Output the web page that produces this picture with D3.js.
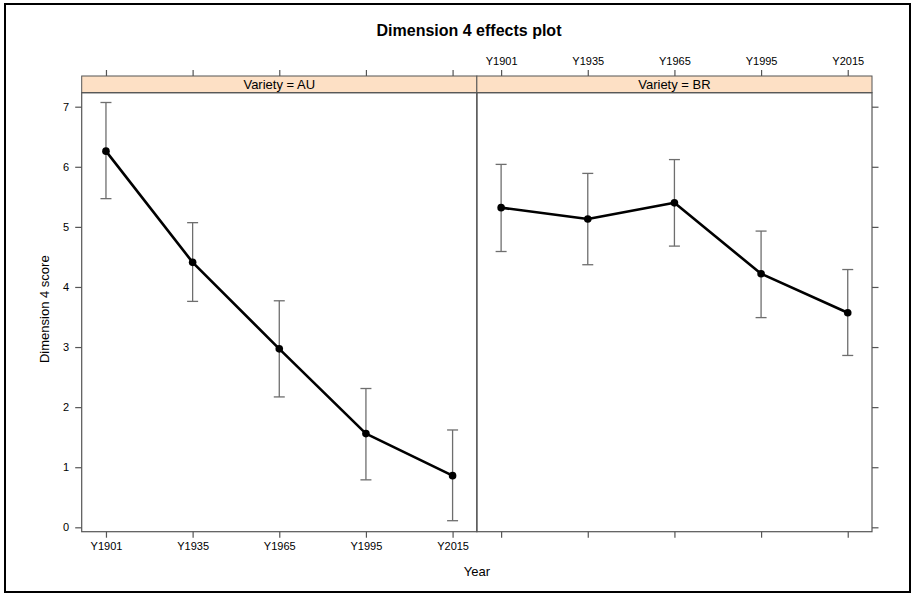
<!DOCTYPE html>
<html>
<head>
<meta charset="utf-8">
<script src="https://cdn.jsdelivr.net/npm/d3@7"></script>
<style>
  html, body { margin: 0; padding: 0; background: #fff; }
  svg { display: block; font-family: "Liberation Sans", Arial, sans-serif; }
</style>
</head>
<body>
<svg id="chart" width="915" height="596"></svg>
<script>
// ---- data ----
const years = ["Y1901", "Y1935", "Y1965", "Y1995", "Y2015"];
const varieties = ["AU", "BR"];
const auFit   = [6.26, 4.41, 2.97, 1.56, 0.86];
const auLower = [5.47, 3.76, 2.17, 0.79, 0.11];
const auUpper = [7.07, 5.07, 3.77, 2.31, 1.62];
const brFit   = [5.32, 5.13, 5.40, 4.22, 3.57];
const brLower = [4.59, 4.37, 4.68, 3.49, 2.86];
const brUpper = [6.04, 5.89, 6.12, 4.93, 4.29];
const yTicks = [0, 1, 2, 3, 4, 5, 6, 7];
const titleText = "Dimension 4 effects plot";
const xLabel = "Year";
const yLabel = "Dimension 4 score";

const series = {
  AU: years.map((y, i) => ({ year: y, fit: auFit[i], lower: auLower[i], upper: auUpper[i] })),
  BR: years.map((y, i) => ({ year: y, fit: brFit[i], lower: brLower[i], upper: brUpper[i] }))
};

// ---- layout ----
const svg = d3.select("#chart");
const panelLeft = 81.7, panelRight = 872, panelTop = 92.7, panelBottom = 531.7;
const stripTop = 76;
const panelW = (panelRight - panelLeft) / varieties.length;

const y = d3.scaleLinear().domain([-0.073, 7.233]).range([panelBottom, panelTop]);
const x = d3.scalePoint().domain(years).range([0, panelW]).padding(0.28);

const axisColor = "#555";
const fontSize = 11;

// outer border
svg.append("rect").attr("x", 5).attr("y", 4).attr("width", 905).attr("height", 588)
  .attr("fill", "none").attr("stroke", "#000").attr("stroke-width", 2);

// title
svg.append("text").attr("x", 469).attr("y", 36).attr("text-anchor", "middle")
  .attr("font-size", 16).attr("font-weight", "bold").attr("fill", "#000").text(titleText);

varieties.forEach((v, pi) => {
  const x0 = panelLeft + pi * panelW;
  const g = svg.append("g").attr("transform", `translate(${x0},0)`);

  // strip
  g.append("rect").attr("x", 0).attr("y", stripTop).attr("width", panelW).attr("height", panelTop - stripTop)
    .attr("fill", "#fde0c5").attr("stroke", axisColor).attr("stroke-width", 1);
  g.append("text").attr("x", panelW / 2).attr("y", panelTop - 3.8).attr("text-anchor", "middle")
    .attr("font-size", 13).attr("fill", "#000").text("Variety = " + v);

  // panel border
  g.append("rect").attr("x", 0).attr("y", panelTop).attr("width", panelW).attr("height", panelBottom - panelTop)
    .attr("fill", "none").attr("stroke", axisColor).attr("stroke-width", 1.2);

  // top axis
  const topAxis = d3.axisTop(x).tickSize(6).tickPadding(5).tickFormat(pi === 1 ? (d => d) : () => "");
  const ta = g.append("g").attr("transform", `translate(0,${stripTop})`).call(topAxis);
  // bottom axis
  const botAxis = d3.axisBottom(x).tickSize(6).tickPadding(5).tickFormat(pi === 0 ? (d => d) : () => "");
  const ba = g.append("g").attr("transform", `translate(0,${panelBottom})`).call(botAxis);
  [ta, ba].forEach(a => {
    a.select(".domain").remove();
    a.selectAll("line").attr("stroke", axisColor).attr("stroke-width", 1.2);
    a.selectAll("text").attr("font-size", fontSize).attr("fill", "#000").attr("font-family", "Liberation Sans, Arial, sans-serif");
  });

  // y axes
  if (pi === 0) {
    const la = g.append("g").call(d3.axisLeft(y).tickValues(yTicks).tickSize(6.5).tickPadding(6).tickFormat(d3.format("d")));
    la.select(".domain").remove();
    la.selectAll("line").attr("stroke", axisColor).attr("stroke-width", 1.2);
    la.selectAll("text").attr("font-size", fontSize).attr("fill", "#000").attr("font-family", "Liberation Sans, Arial, sans-serif");
  } else {
    const ra = g.append("g").attr("transform", `translate(${panelW},0)`)
      .call(d3.axisRight(y).tickValues(yTicks).tickSize(6.5).tickFormat(() => ""));
    ra.select(".domain").remove();
    ra.selectAll("line").attr("stroke", axisColor).attr("stroke-width", 1.2);
  }

  const data = series[v];
  // error bars
  const eb = g.append("g").attr("stroke", "#6e6e6e").attr("stroke-width", 1.3).attr("fill", "none");
  eb.selectAll("line.v").data(data).join("line").attr("class", "v")
    .attr("x1", d => x(d.year)).attr("x2", d => x(d.year))
    .attr("y1", d => y(d.lower)).attr("y2", d => y(d.upper));
  eb.selectAll("line.t").data(data).join("line").attr("class", "t")
    .attr("x1", d => x(d.year) - 5.5).attr("x2", d => x(d.year) + 5.5)
    .attr("y1", d => y(d.upper)).attr("y2", d => y(d.upper));
  eb.selectAll("line.b").data(data).join("line").attr("class", "b")
    .attr("x1", d => x(d.year) - 5.5).attr("x2", d => x(d.year) + 5.5)
    .attr("y1", d => y(d.lower)).attr("y2", d => y(d.lower));

  // line
  g.append("path").datum(data)
    .attr("d", d3.line().x(d => x(d.year)).y(d => y(d.fit)))
    .attr("fill", "none").attr("stroke", "#000").attr("stroke-width", 2.6).attr("stroke-linejoin", "round");
  // points
  g.selectAll("circle").data(data).join("circle")
    .attr("cx", d => x(d.year)).attr("cy", d => y(d.fit)).attr("r", 3.8).attr("fill", "#000");
});

// axis titles
svg.append("text").attr("x", (panelLeft + panelRight) / 2).attr("y", 576).attr("text-anchor", "middle")
  .attr("font-size", 13).attr("fill", "#000").text(xLabel);
svg.append("text").attr("transform", `translate(49,${(panelTop + panelBottom) / 2 - 3}) rotate(-90)`)
  .attr("text-anchor", "middle").attr("font-size", 13).attr("fill", "#000").text(yLabel);
</script>
</body>
</html>
